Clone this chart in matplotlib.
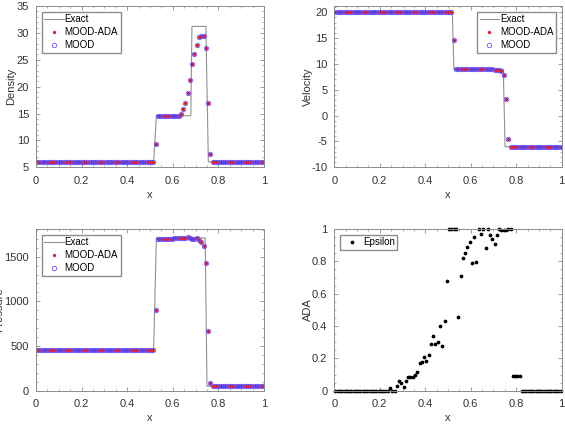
import numpy as np
import matplotlib
matplotlib.use("Agg")
import matplotlib.pyplot as plt
from matplotlib.ticker import AutoMinorLocator

plt.rcParams['font.family'] = ['Liberation Sans', 'DejaVu Sans']
plt.rcParams['axes.unicode_minus'] = False

# cell centres, 100 cells
x = (np.arange(100) + 0.5) / 100

# exact solution (breakpoints)
ex_x_rho = [0, 0.516, 0.528, 0.679, 0.684, 0.745, 0.756, 1]
ex_rho = [6.0, 6.0, 14.6, 14.6, 31.2, 31.2, 6.0, 6.0]
ex_x_vel = [0, 0.519, 0.526, 0.743, 0.751, 1]
ex_vel = [20.0, 20.0, 8.95, 8.95, -6.0, -6.0]
ex_x_p = [0, 0.516, 0.528, 0.742, 0.750, 1]
ex_p = [460, 460, 1710, 1710, 50, 50]

# numerical results
rho_ada = [6.0]*52 + [9.3] + [14.55]*10 + [14.9, 15.9, 17.0, 18.8, 21.3, 24.2, 26.0,
                                          27.7, 29.3, 29.5, 29.5, 27.2, 17.0, 7.4] + [6.0]*23
rho_mood = list(rho_ada)

vel_ada = [20.0]*52 + [14.6] + [8.95]*17 + [8.9, 8.85, 8.75, 8.6, 7.8, 3.3, -4.6] + [-6.0]*23
vel_mood = list(vel_ada)

p_ada = [460]*52 + [900] + [1700, 1698, 1695, 1695, 1695, 1698, 1700, 1705, 1705, 1708,
                            1705, 1705, 1712, 1718, 1712, 1700, 1695, 1710, 1685, 1665,
                            1625, 1430, 670, 90] + [50]*23
p_mood = list(p_ada)

eps = [0]*24 + [0.015, 0, 0, 0.03, 0.058, 0.047, 0.022, 0.062, 0.087, 0.082,
                0.082, 0.10, 0.118, 0.17, 0.18, 0.21, 0.186, 0.22, 0.29, 0.337,
                0.287, 0.302, 0.40, 0.277, 0.428, 0.676, 1, 1, 1, 1,
                0.457, 0.71, 0.82, 0.85, 0.89, 0.92, 0.79, 0.95, 0.795, 1,
                0.97, 1, 0.885, 1, 0.965, 0.94, 0.905, 0.965, 1, 0.995,
                0.995, 0.995, 1, 1, 0.09, 0.09, 0.09, 0.09] + [0]*18

W, H = 565, 432
fig = plt.figure(figsize=(W/100, H/100), dpi=100)

def box(l, t, r, b):
    return [l/W, 1 - b/H, (r - l)/W, (b - t)/H]

ax1 = fig.add_axes(box(36, 6, 264, 167.3))
ax2 = fig.add_axes(box(334.3, 6, 561.7, 167.3))
ax3 = fig.add_axes(box(36, 229, 264, 390.7))
ax4 = fig.add_axes(box(334.3, 229, 561.7, 390.7))

grey = '#8c8c8c'
txt = '#333333'

def style(ax):
    ax.set_xlim(0, 1)
    ax.set_xticks([0, 0.2, 0.4, 0.6, 0.8, 1])
    ax.set_xticklabels(['0', '0.2', '0.4', '0.6', '0.8', '1'])
    ax.xaxis.set_minor_locator(AutoMinorLocator())
    ax.yaxis.set_minor_locator(AutoMinorLocator())
    ax.tick_params(which='both', direction='in', top=True, right=True, color=grey,
                   labelsize=8, labelcolor=txt)
    ax.tick_params(which='major', length=3, width=0.6)
    ax.tick_params(which='minor', length=1.5, width=0.5)
    ax.tick_params(axis='x', pad=6)
    ax.tick_params(axis='y', pad=5)
    for s in ax.spines.values():
        s.set_color(grey)
        s.set_linewidth(0.7)
    ax.set_xlabel('x', fontsize=8, color=txt, labelpad=3)

def leg(ax, loc):
    ax.legend(loc=loc, fontsize=7, frameon=True, fancybox=False, edgecolor=grey,
              framealpha=1, borderpad=0.25, labelspacing=0.3, handlelength=2.0,
              handletextpad=0.1, borderaxespad=0.6, numpoints=1)

for ax, ex_x, ex_y, ya, ym, lab in [(ax1, ex_x_rho, ex_rho, rho_ada, rho_mood, 'Density'),
                                    (ax2, ex_x_vel, ex_vel, vel_ada, vel_mood, 'Velocity'),
                                    (ax3, ex_x_p, ex_p, p_ada, p_mood, 'Pressure')]:
    ax.plot(ex_x, ex_y, color='#909090', lw=0.8, label='Exact')
    ax.plot(x, ya, '.', color='#e8101a', ms=2.6, label='MOOD-ADA')
    ax.plot(x, ym, 'o', mfc='none', mec='#5a4cff', mew=0.55, ms=3.2, label='MOOD')
    style(ax)
    ax.set_ylabel(lab, fontsize=8, color=txt)

ax1.set_ylim(5, 35)
ax1.set_yticks(range(5, 36, 5))
ax1.yaxis.set_label_coords(-0.088, 0.5)
leg(ax1, 'upper left')

ax2.set_ylim(-10, 21.2)
ax2.set_yticks(range(-10, 21, 5))
ax2.yaxis.set_label_coords(-0.095, 0.5)
leg(ax2, 'upper right')

ax3.set_ylim(0, 1810)
ax3.set_yticks([0, 500, 1000, 1500])
ax3.yaxis.set_label_coords(-0.14, 0.5)
leg(ax3, 'upper left')

ax4.plot(x, eps, '.', color='black', ms=3.4, clip_on=False, label='Epsilon')
style(ax4)
ax4.set_ylim(0, 1)
ax4.set_yticks([0, 0.2, 0.4, 0.6, 0.8, 1])
ax4.set_yticklabels(['0', '0.2', '0.4', '0.6', '0.8', '1'])
ax4.set_ylabel('ADA', fontsize=8, color=txt)
ax4.yaxis.set_label_coords(-0.095, 0.5)
leg(ax4, 'upper left')

fig.savefig('out.png', dpi=100)
